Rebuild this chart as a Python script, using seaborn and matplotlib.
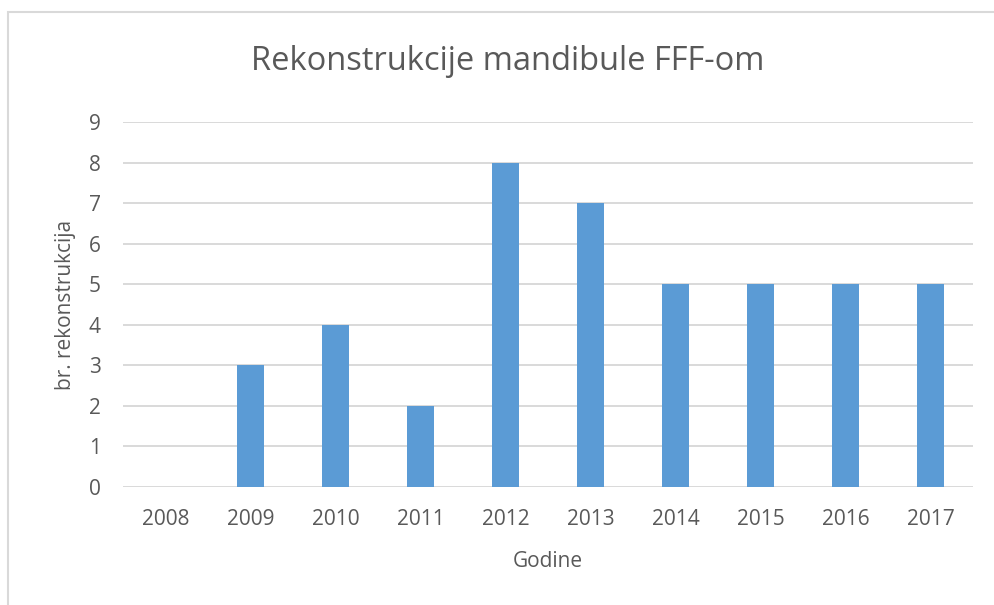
import matplotlib
matplotlib.use("Agg")
import matplotlib.pyplot as plt
import seaborn as sns
import pandas as pd
from matplotlib.patches import Rectangle

years = ["2008", "2009", "2010", "2011", "2012", "2013", "2014", "2015", "2016", "2017"]
counts = [0, 3, 4, 2, 8, 7, 5, 5, 5, 5]
y_ticks = [0, 1, 2, 3, 4, 5, 6, 7, 8, 9]

sns.set_theme(style="white")
plt.rcParams["font.family"] = ["Open Sans", "DejaVu Sans"]

TEXT = "#595959"
GRID = "#D9D9D9"
BAR = "#5B9BD5"

df = pd.DataFrame({"Godine": years, "br": counts})

fig = plt.figure(figsize=(9.94, 6.05), dpi=100)
ax = fig.add_axes([123 / 994, 1 - 487 / 605, (973 - 123) / 994, (487 - 122) / 605])

sns.barplot(data=df, x="Godine", y="br", color=BAR, width=0.32,
            saturation=1, linewidth=0, ax=ax, zorder=3)

ax.set_ylim(0, 9)
ax.set_yticks(y_ticks)
ax.yaxis.grid(True, color=GRID, linewidth=1.4, zorder=0)
ax.set_axisbelow(True)
for s in ax.spines.values():
    s.set_visible(False)
ax.tick_params(axis="both", length=0, labelsize=15, colors=TEXT)
ax.tick_params(axis="y", pad=16)
ax.tick_params(axis="x", pad=16)

ax.set_xlabel("Godine", fontsize=15, color=TEXT, labelpad=15)
ax.set_ylabel("br. rekonstrukcija", fontsize=15, color=TEXT, labelpad=9)
fig.text(508 / 994, 1 - 62 / 605, "Rekonstrukcije mandibule FFF-om",
         ha="center", va="center", fontsize=23.5, color=TEXT)

# chart frame
fig.patches.append(Rectangle((8 / 994, -0.1), 1.2, 1 - 12 / 605 + 0.1,
                             transform=fig.transFigure, fill=False,
                             edgecolor=GRID, linewidth=1.5))

fig.savefig("out.png", dpi=100)
